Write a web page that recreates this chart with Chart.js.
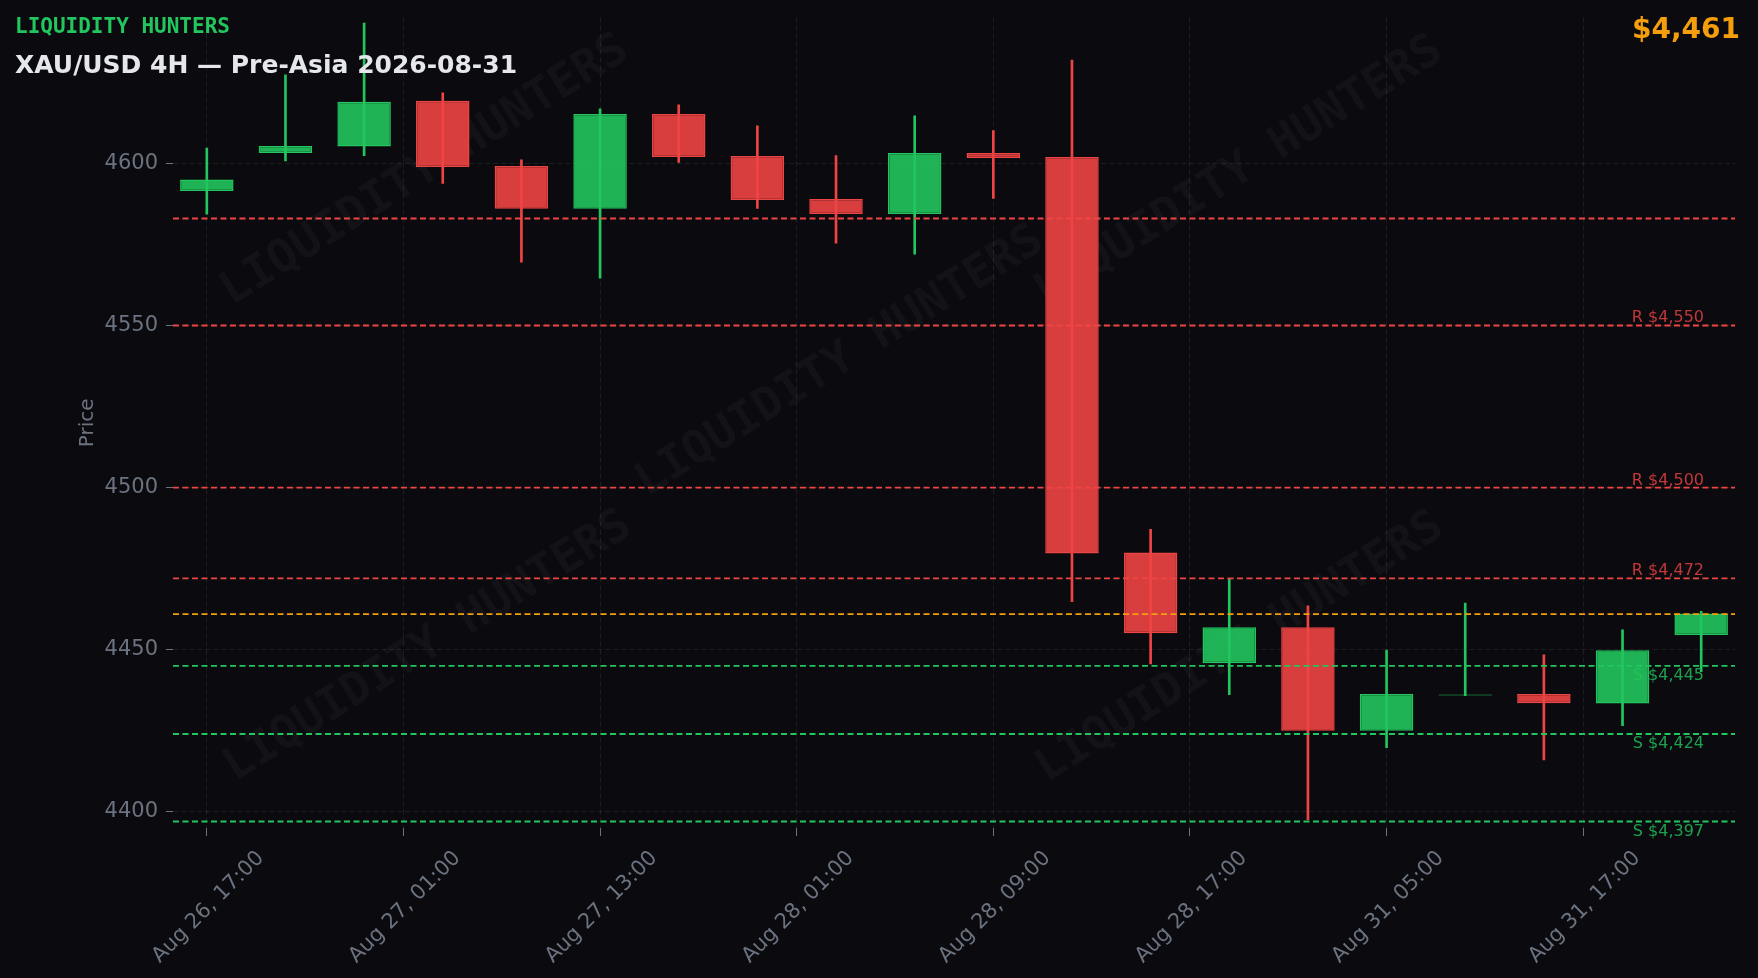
<!DOCTYPE html>
<html>
<head>
<meta charset="utf-8">
<title>XAU/USD 4H</title>
<script src="https://cdn.jsdelivr.net/npm/chart.js@4.4.1/dist/chart.umd.min.js"></script>
<style>
	html, body { margin: 0; padding: 0; background: #0b0b0f; }
	#wrap { width: 1758px; height: 978px; }
</style>
</head>
<body>
<div id="wrap"><canvas id="chart" width="1758" height="978"></canvas></div>
<script>
// candles, 4H, index 0 = Aug 26 17:00
var opens  = [4591.5, 4603.2, 4605.2, 4619.3, 4599.2, 4586.0, 4615.2, 4602.3, 4589.0, 4584.4, 4603.2, 4602.0, 4480.0, 4445.8, 4456.9, 4425.0, 4435.9, 4436.3, 4433.4, 4454.5]
var highs  = [4604.7, 4627.3, 4643.3, 4621.8, 4601.1, 4616.8, 4618.1, 4611.6, 4602.4, 4614.7, 4610.1, 4631.9, 4487.1, 4471.8, 4463.5, 4449.9, 4464.4, 4448.4, 4456.1, 4461.8]
var lows   = [4584.3, 4600.8, 4602.4, 4593.8, 4569.5, 4564.6, 4600.3, 4586.1, 4575.4, 4572.0, 4589.2, 4464.8, 4445.6, 4436.1, 4397.6, 4419.8, 4435.8, 4416.0, 4426.6, 4443.2]
var closes = [4595.0, 4605.4, 4619.0, 4598.9, 4586.0, 4615.2, 4602.0, 4588.7, 4584.4, 4603.2, 4601.7, 4479.7, 4455.1, 4456.9, 4425.0, 4436.3, 4436.2, 4433.5, 4449.8, 4461.2]

var xTickPos    = [0, 2.5, 5, 7.5, 10, 12.5, 15, 17.5]
var xTickLabels = ["Aug 26, 17:00", "Aug 27, 01:00", "Aug 27, 13:00", "Aug 28, 01:00", "Aug 28, 09:00", "Aug 28, 17:00", "Aug 31, 05:00", "Aug 31, 17:00"]
var yTickPos    = [4400, 4450, 4500, 4550, 4600]

var resistance = [4550, 4500, 4472]
var support    = [4445, 4424, 4397]
var upperLevel = 4583
var lastPrice  = 4461

var GREEN = "#22c55e"
var RED   = "#ef4444"
var FONT  = "'DejaVu Sans', sans-serif"

//////////////////////////////////////////////////////////////////////////////////////////////////

var bodies = [], wicks = [], bodyFill = [], bodyLine = []
for (var i = 0; i < opens.length; i++) {
	var up = closes[i] >= opens[i]
	bodies.push({ x: i, y: [opens[i], closes[i]] })
	wicks.push({ x: i, y: [lows[i], highs[i]] })
	bodyFill.push(up ? "rgba(34,197,94,0.9)" : "rgba(239,68,68,0.9)")
	bodyLine.push(up ? GREEN : RED)
}

var backdrop = {
	id: "backdrop",
	beforeDraw: function (chart) {
		var ctx = chart.ctx
		ctx.save()
		ctx.fillStyle = "#0b0b0f"
		ctx.fillRect(0, 0, chart.width, chart.height)
		ctx.restore()
	},
	beforeDatasetsDraw: function (chart) {
		// faint watermark
		var ctx = chart.ctx
		var spots = [[425, 171], [840, 362], [1239, 172], [428, 647], [1240, 648]]
		ctx.save()
		ctx.font = "bold 46px 'DejaVu Sans Mono', monospace"
		ctx.fillStyle = "rgba(255,255,255,0.035)"
		ctx.textAlign = "center"
		ctx.textBaseline = "middle"
		spots.forEach(function (p) {
			ctx.save()
			ctx.translate(p[0], p[1])
			ctx.rotate(-32 * Math.PI / 180)
			ctx.fillText("LIQUIDITY HUNTERS", 0, 0)
			ctx.restore()
		})
		ctx.restore()
	}
}

var levels = {
	id: "levels",
	afterDatasetsDraw: function (chart) {
		var ctx = chart.ctx, area = chart.chartArea, y = chart.scales.y
		var labelX = 1704

		var line = function (value, color) {
			var py = y.getPixelForValue(value)
			ctx.beginPath()
			ctx.moveTo(area.left, py)
			ctx.lineTo(area.right, py)
			ctx.strokeStyle = color
			ctx.stroke()
			return py
		}

		ctx.save()
		ctx.lineWidth = 1.8
		ctx.setLineDash([6, 3.5])
		ctx.font = "16px " + FONT
		ctx.textAlign = "right"

		line(upperLevel, RED)
		resistance.forEach(function (v) {
			var py = line(v, RED)
			ctx.fillStyle = "rgba(239,68,68,0.8)"
			ctx.textBaseline = "alphabetic"
			ctx.fillText("R $" + v.toLocaleString("en-US"), labelX, py - 3)
		})
		support.forEach(function (v) {
			var py = line(v, GREEN)
			ctx.fillStyle = "rgba(34,197,94,0.8)"
			ctx.textBaseline = "top"
			ctx.fillText("S $" + v.toLocaleString("en-US"), labelX, py + 2)
		})
		line(lastPrice, "#f59e0b")
		ctx.restore()
	},
	afterDraw: function (chart) {
		var ctx = chart.ctx
		ctx.save()
		ctx.textBaseline = "alphabetic"
		ctx.textAlign = "left"
		ctx.fillStyle = GREEN
		ctx.font = "bold 21px 'DejaVu Sans Mono', monospace"
		ctx.fillText("LIQUIDITY HUNTERS", 15, 33)
		ctx.fillStyle = "#e5e7eb"
		ctx.font = "bold 25px " + FONT
		ctx.fillText("XAU/USD 4H \u2014 Pre-Asia 2026-08-31", 15, 73)
		ctx.textAlign = "right"
		ctx.fillStyle = "#f59e0b"
		ctx.font = "bold 28px " + FONT
		ctx.fillText("$" + lastPrice.toLocaleString("en-US"), 1740, 38)
		ctx.restore()
	}
}

var gridStyle = {
	color: "rgba(255,255,255,0.08)",
	lineWidth: 1,
	tickColor: "#6b7280",
	tickBorderDash: [],
	drawTicks: true,
	offset: false
}

new Chart(document.getElementById("chart"), {
	type: "bar",
	data: {
		datasets: [
			{
				data: bodies,
				backgroundColor: bodyFill,
				borderColor: bodyLine,
				borderWidth: 1.5,
				borderSkipped: false,
				grouped: false,
				categoryPercentage: 1,
				barPercentage: 0.68
			},
			{
				data: wicks,
				backgroundColor: bodyLine,
				borderWidth: 0,
				grouped: false,
				categoryPercentage: 1,
				barPercentage: 1,
				maxBarThickness: 2
			}
		]
	},
	options: {
		responsive: false,
		animation: false,
		layout: { padding: { top: 17.5, right: 23, left: 0, bottom: 0 } },
		plugins: { legend: { display: false }, tooltip: { enabled: false } },
		scales: {
			x: {
				type: "linear",
				offset: false,
				min: -0.43,
				max: 19.43,
				bounds: "data",
				afterBuildTicks: function (axis) {
					axis.ticks = xTickPos.map(function (v) { return { value: v } })
				},
				afterFit: function (axis) {
					axis.height = 150
					axis.paddingLeft = 0
					axis.paddingRight = 0
				},
				border: { display: false, dash: [5, 3] },
				grid: Object.assign({ tickLength: 8 }, gridStyle),
				ticks: {
					autoSkip: false,
					maxRotation: 45,
					minRotation: 45,
					labelOffset: 54,
					padding: 10,
					color: "#6b7280",
					font: { family: FONT, size: 21 },
					callback: function (value, index) { return xTickLabels[index] }
				}
			},
			y: {
				type: "linear",
				min: 4395,
				max: 4645,
				bounds: "data",
				afterBuildTicks: function (axis) {
					axis.ticks = yTickPos.map(function (v) { return { value: v } })
				},
				afterFit: function (axis) {
					axis.width = 173
					axis.paddingTop = 0
					axis.paddingBottom = 0
				},
				border: { display: false, dash: [5, 3] },
				grid: Object.assign({ tickLength: 7 }, gridStyle),
				title: {
					display: true,
					text: "Price",
					color: "#6b7280",
					font: { family: FONT, size: 20 },
					padding: { top: 76, bottom: 0 }
				},
				ticks: {
					padding: 8,
					color: "#6b7280",
					font: { family: FONT, size: 21 },
					callback: function (value) { return String(value) }
				}
			}
		}
	},
	plugins: [backdrop, levels]
})
</script>
</body>
</html>
